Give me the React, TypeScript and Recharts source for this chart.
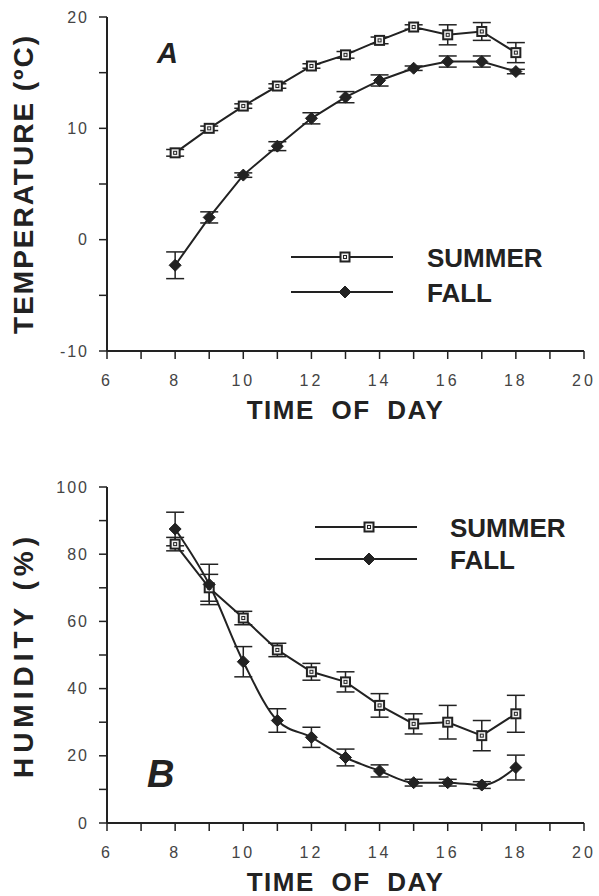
import React from "react";
import { LineChart, Line, XAxis, YAxis, ErrorBar, Legend } from "recharts";

// hours of the day sampled
const hours = [8, 9, 10, 11, 12, 13, 14, 15, 16, 17, 18];

// panel A: temperature (ºC)
const tempSummer = [7.8, 10.0, 12.0, 13.8, 15.6, 16.6, 17.9, 19.1, 18.4, 18.7, 16.8];
const tempSummerErr = [0.3, 0.2, 0.2, 0.2, 0.2, 0.3, 0.3, 0.2, 0.9, 0.8, 0.9];
const tempFall = [-2.3, 2.0, 5.8, 8.4, 10.9, 12.8, 14.3, 15.4, 16.0, 16.0, 15.1];
const tempFallErr = [1.2, 0.5, 0.2, 0.4, 0.5, 0.5, 0.5, 0.2, 0.5, 0.5, 0.2];

// panel B: humidity (%)
const humSummer = [83, 70, 61, 51.5, 45, 42, 35, 29.5, 30, 26, 32.5];
const humSummerErr = [2, 4, 2, 2, 2.5, 3, 3.5, 3, 5, 4.5, 5.5];
const humFall = [87.5, 71, 48, 30.5, 25.5, 19.5, 15.5, 12, 12, 11.3, 16.5];
const humFallErr = [5, 6, 4.5, 3.5, 3, 2.5, 1.8, 1, 1, 1, 3.7];

const seriesNames = { summer: "SUMMER", fall: "FALL" };
const seriesOrder = ["summer", "fall"];

const xTicks = [6, 7, 8, 9, 10, 11, 12, 13, 14, 15, 16, 17, 18, 19, 20];
const tempTicks = [-10, -5, 0, 5, 10, 15, 20];
const humTicks = [0, 10, 20, 30, 40, 50, 60, 70, 80, 90, 100];

const tempRows = hours.map((h, i) => ({
  hour: h,
  summer: tempSummer[i],
  summerErr: tempSummerErr[i],
  fall: tempFall[i],
  fallErr: tempFallErr[i],
}));

const humRows = hours.map((h, i) => ({
  hour: h,
  summer: humSummer[i],
  summerErr: humSummerErr[i],
  fall: humFall[i],
  fallErr: humFallErr[i],
}));

const font = "'Liberation Sans', Arial, Helvetica, sans-serif";
const ink = "#222";
const tickGray = "#444";

function SquareMark({ cx, cy }: { cx: number; cy: number }) {
  return (
    <g>
      <rect x={cx - 4.5} y={cy - 4.5} width={9} height={9} fill="#f2f2f2" stroke={ink} strokeWidth={2} />
      <rect x={cx - 1.5} y={cy - 1.5} width={3} height={3} fill="none" stroke={ink} strokeWidth={1} />
    </g>
  );
}

function DiamondMark({ cx, cy }: { cx: number; cy: number }) {
  const r = 6;
  return (
    <polygon
      points={`${cx},${cy - r} ${cx + r},${cy} ${cx},${cy + r} ${cx - r},${cy}`}
      fill={ink}
      stroke={ink}
      strokeWidth={1}
    />
  );
}

const squareDot = (p: any) =>
  p.cx == null ? null : <SquareMark key={`s-${p.index}`} cx={p.cx} cy={p.cy} />;
const diamondDot = (p: any) =>
  p.cx == null ? null : <DiamondMark key={`f-${p.index}`} cx={p.cx} cy={p.cy} />;

const makeLegend = (rowGap: number, textX: number) => (props: any) => {
  const payload = props.payload || [];
  const items = seriesOrder
    .map((k) => payload.find((p: any) => p.dataKey === k))
    .filter(Boolean);
  return (
    <svg width={300} height={rowGap + 30} style={{ overflow: "visible" }}>
      {items.map((item: any, i: number) => {
        const y = 15 + i * rowGap;
        return (
          <g key={item.dataKey}>
            <line x1={0} x2={102} y1={y} y2={y} stroke={ink} strokeWidth={1.8} />
            {item.dataKey === "summer" ? <SquareMark cx={54} cy={y} /> : <DiamondMark cx={54} cy={y} />}
            <text
              x={textX}
              y={y + 1}
              dominantBaseline="central"
              fontFamily={font}
              fontWeight="bold"
              fontSize={26}
              fill={ink}
            >
              {item.value}
            </text>
          </g>
        );
      })}
    </svg>
  );
};

const yTitle = (text: string, size: number, spacing: number) => (props: any) => {
  const vb = props.viewBox || { y: 0, height: 0 };
  const cy = vb.y + vb.height / 2;
  return (
    <text
      x={15}
      y={cy}
      transform={`rotate(-90, 15, ${cy})`}
      textAnchor="middle"
      dominantBaseline="central"
      fontFamily={font}
      fontWeight="bold"
      fontSize={size}
      letterSpacing={spacing}
      fill={ink}
    >
      {text}
    </text>
  );
};

const xTitle = (text: string) => (props: any) => {
  const vb = props.viewBox || { x: 0, y: 0, width: 0 };
  return (
    <text
      x={vb.x + vb.width / 2}
      y={vb.y + 68}
      textAnchor="middle"
      fontFamily={font}
      fontWeight="bold"
      fontSize={26}
      letterSpacing={1.5}
      wordSpacing={8}
      fill={ink}
    >
      {text}
    </text>
  );
};

const tickStyle = { fontFamily: font, fontSize: 16, fill: tickGray };

function Panel({
  rows,
  height,
  top,
  axisHeight,
  yDomain,
  yTicks,
  yLabelEvery,
  yLabel,
  yLabelSize,
  yLabelSpacing,
  letter,
  letterX,
  letterY,
  letterSize,
  legendTop,
  legendLeft,
  legendGap,
  legendTextX,
  fallCurve,
}: any) {
  return (
    <LineChart
      width={591}
      height={height}
      data={rows}
      margin={{ top, right: 15, left: 0, bottom: 0 }}
    >
      <XAxis
        dataKey="hour"
        type="number"
        domain={[6, 20]}
        ticks={xTicks}
        interval={0}
        tickFormatter={(v) => (v % 2 === 0 ? `${v}` : "")}
        height={axisHeight}
        stroke={ink}
        strokeWidth={2}
        tickSize={8}
        tickMargin={16}
        tick={{ ...tickStyle, letterSpacing: 3 }}
        tickLine={{ stroke: ink, strokeWidth: 1.5 }}
        label={xTitle("TIME OF DAY")}
      />
      <YAxis
        type="number"
        domain={yDomain}
        ticks={yTicks}
        interval={0}
        allowDataOverflow
        width={99}
        tickFormatter={(v) => (v % yLabelEvery === 0 ? `${v}` : "")}
        stroke={ink}
        strokeWidth={2}
        tickSize={8}
        tickMargin={10}
        tick={{ ...tickStyle, letterSpacing: 2 }}
        tickLine={{ stroke: ink, strokeWidth: 1.5 }}
        label={yTitle(yLabel, yLabelSize, yLabelSpacing)}
      />
      <Legend
        layout="vertical"
        align="center"
        verticalAlign="middle"
        wrapperStyle={{ left: legendLeft, top: legendTop, width: 300 }}
        content={makeLegend(legendGap, legendTextX)}
      />
      <Line
        dataKey="summer"
        name={seriesNames.summer}
        type="linear"
        stroke={ink}
        strokeWidth={2}
        dot={squareDot}
        activeDot={false}
        isAnimationActive={false}
      >
        <ErrorBar dataKey="summerErr" width={9} stroke={ink} strokeWidth={1.5} direction="y" />
      </Line>
      <Line
        dataKey="fall"
        name={seriesNames.fall}
        type={fallCurve}
        stroke={ink}
        strokeWidth={2}
        dot={diamondDot}
        activeDot={false}
        isAnimationActive={false}
      >
        <ErrorBar dataKey="fallErr" width={9} stroke={ink} strokeWidth={1.5} direction="y" />
      </Line>
      <text
        x={letterX}
        y={letterY}
        fontFamily={font}
        fontWeight="bold"
        fontStyle="italic"
        fontSize={letterSize}
        fill={ink}
      >
        {letter}
      </text>
    </LineChart>
  );
}

export default function App() {
  return (
    <div style={{ position: "relative", width: 599, height: 896, background: "#fff", overflow: "hidden" }}>
      <style>{"body{margin:0}"}</style>
      <div style={{ position: "absolute", left: 8, top: 8 }}>
        <Panel
          rows={tempRows}
          height={440}
          top={9}
          axisHeight={97}
          yDomain={[-10, 20]}
          yTicks={tempTicks}
          yLabelEvery={10}
          yLabel="TEMPERATURE (ºC)"
          yLabelSize={28}
          yLabelSpacing={2}
          letter="A"
          letterX={149}
          letterY={55}
          letterSize={29}
          legendTop={234}
          legendLeft={283}
          legendGap={35}
          legendTextX={136}
          fallCurve="linear"
        />
      </div>
      <div style={{ position: "absolute", left: 8, top: 448 }}>
        <Panel
          rows={humRows}
          height={448}
          top={39}
          axisHeight={73}
          yDomain={[0, 100]}
          yTicks={humTicks}
          yLabelEvery={20}
          yLabel="HUMIDITY (%)"
          yLabelSize={28}
          yLabelSpacing={5}
          letter="B"
          letterX={139}
          letterY={339}
          letterSize={38}
          legendTop={64}
          legendLeft={307}
          legendGap={32}
          legendTextX={135}
          fallCurve="monotone"
        />
      </div>
    </div>
  );
}
